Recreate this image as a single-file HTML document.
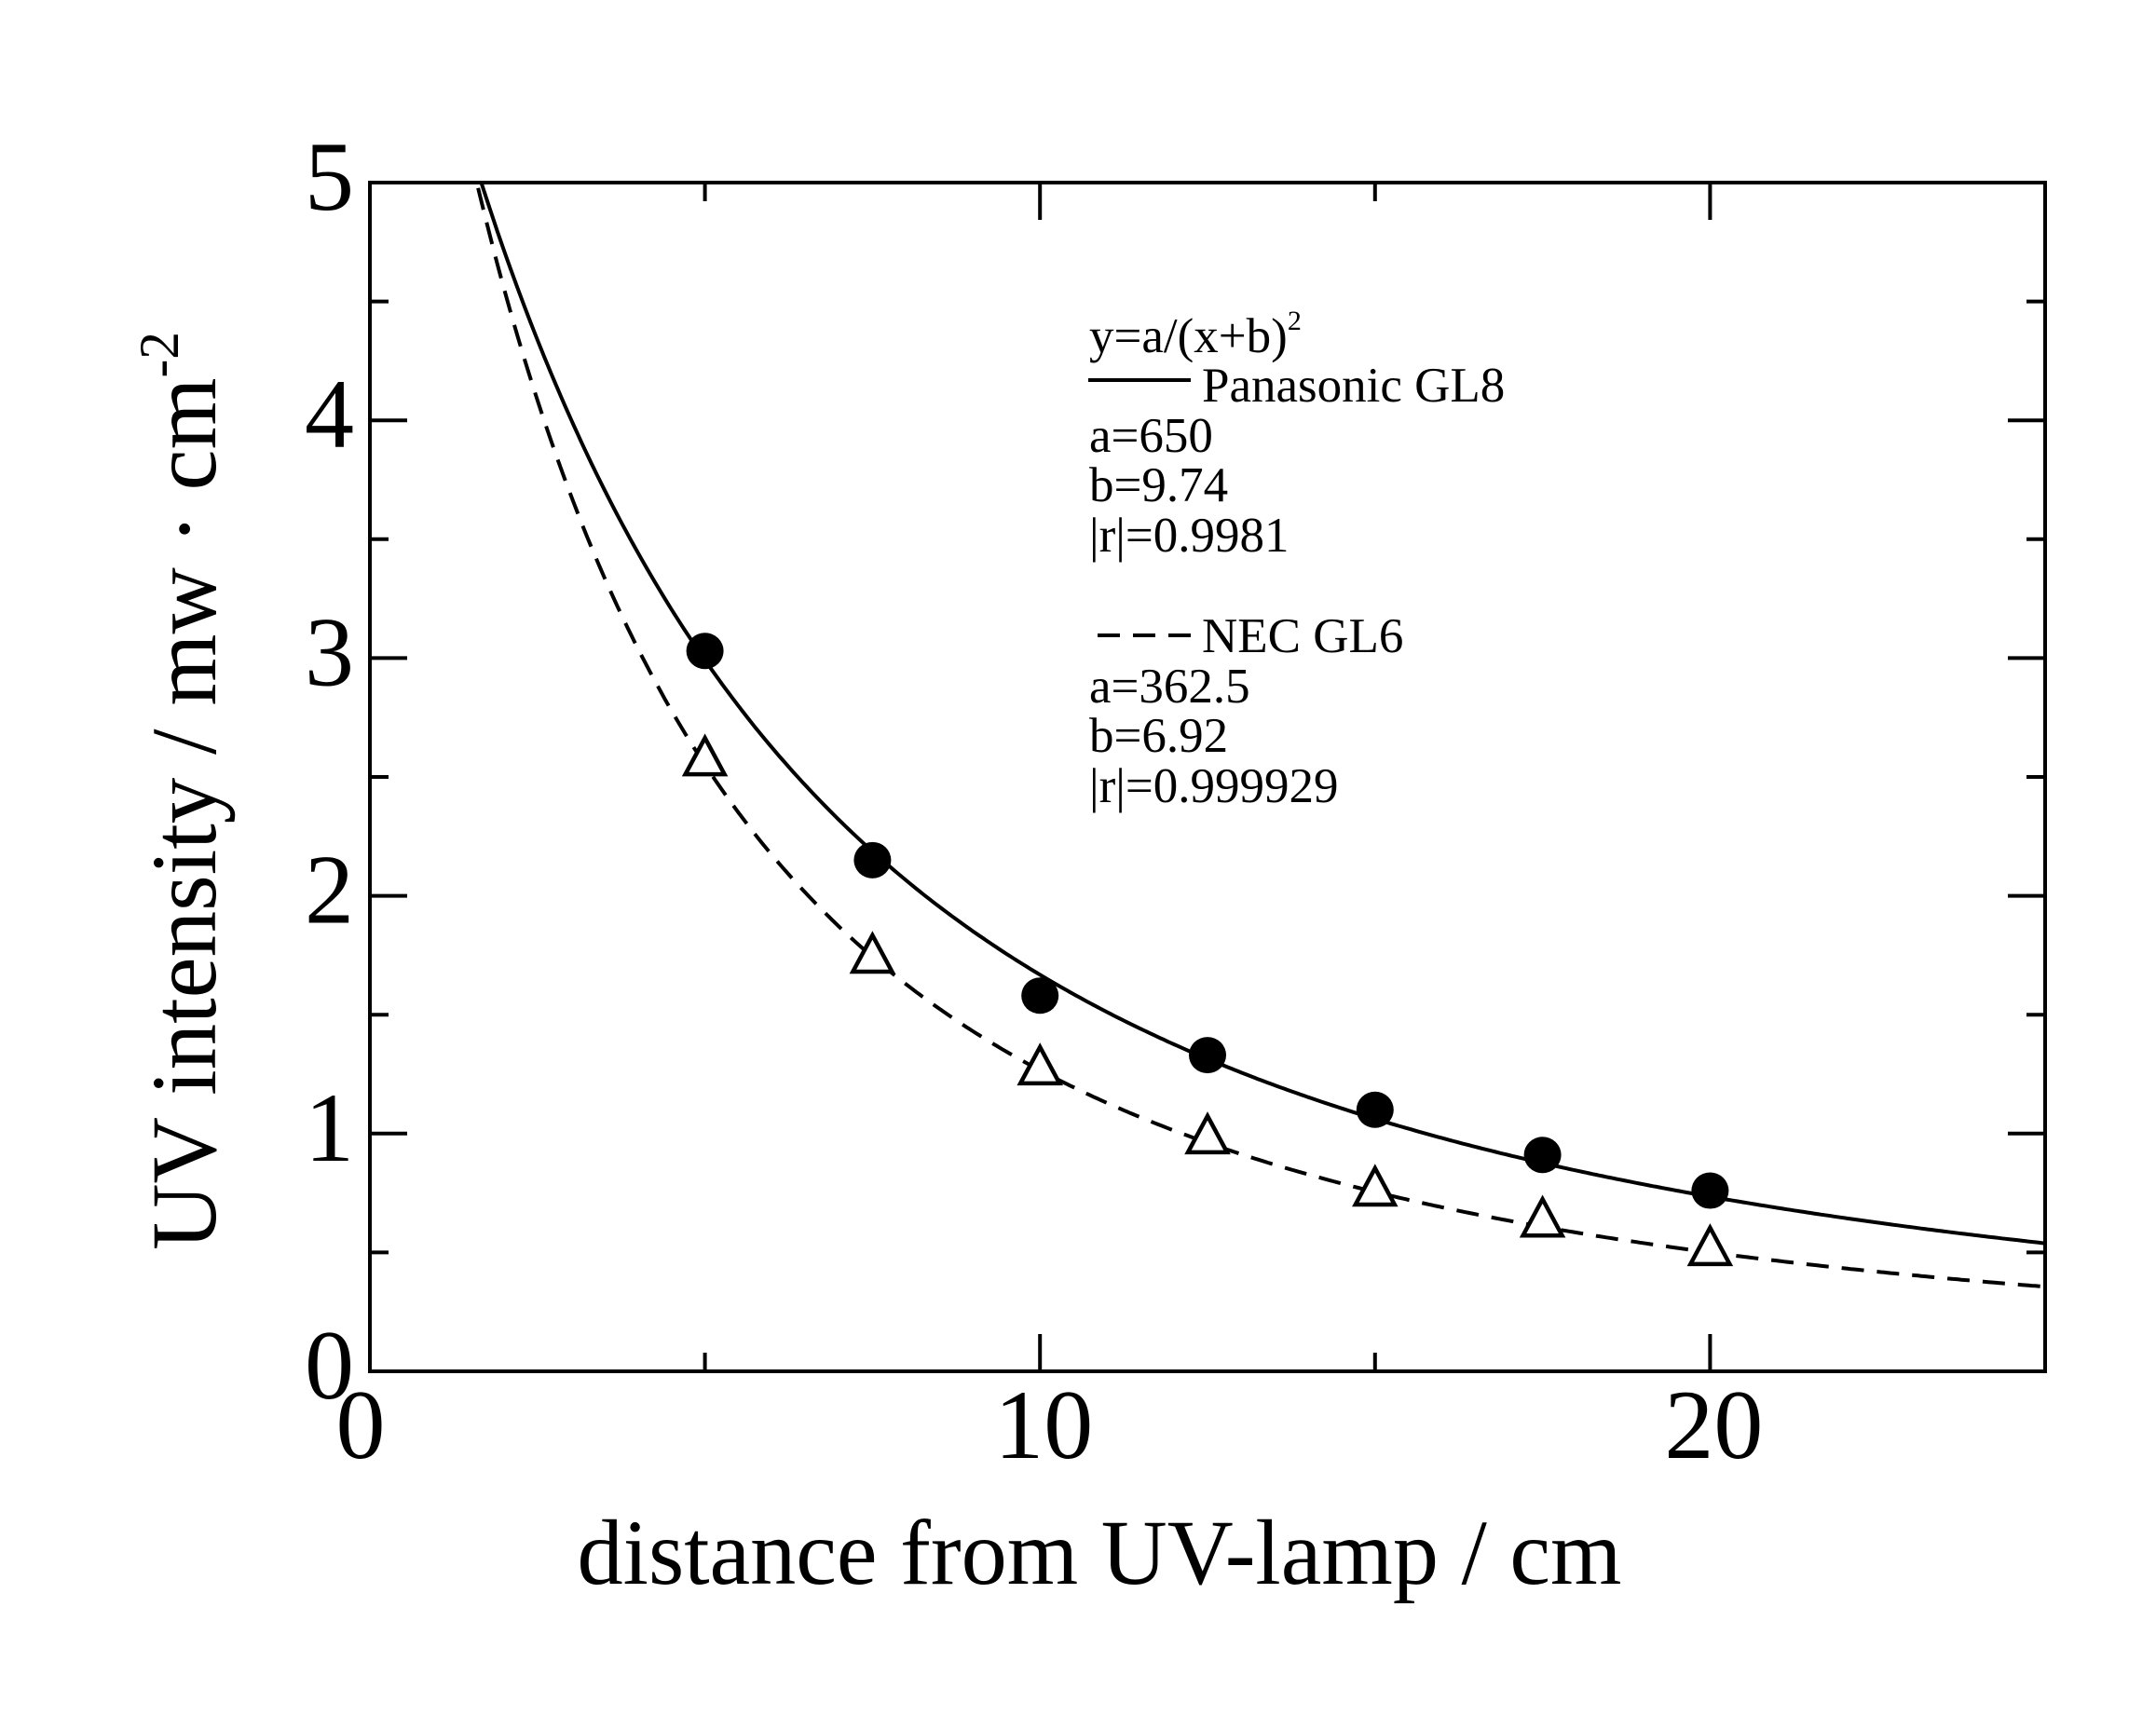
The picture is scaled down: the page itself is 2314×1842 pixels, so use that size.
<!DOCTYPE html>
<html><head><meta charset="utf-8"><style>
html,body{margin:0;padding:0;background:#fff;}
svg{display:block;font-family:"Liberation Serif",serif;}
</style></head><body>
<svg id="chart" width="2314" height="1842" viewBox="0 0 2314 1842" xmlns="http://www.w3.org/2000/svg">
<rect width="2314" height="1842" fill="#fff"/>
<g id="axes"></g>
<g id="curves" clip-path="url(#clip)"></g>
<g id="marks"></g>
<defs><clipPath id="clip"><rect x="397" y="196" width="1798" height="1276"/></clipPath></defs>
<text x="1180" y="1700" font-size="100" text-anchor="middle" textLength="1121" lengthAdjust="spacingAndGlyphs">distance from UV-lamp / cm</text>
<text transform="translate(231,849) rotate(-90)" font-size="100" text-anchor="middle" textLength="986" lengthAdjust="spacingAndGlyphs">UV intensity / mw · cm<tspan font-size="60" dy="-40">-2</tspan></text>
<g font-size="53">
<text x="1169" y="378">y=a/(x+b)<tspan font-size="30" dy="-24">2</tspan></text>
<line x1="1168" y1="408" x2="1278" y2="408" stroke="#000" stroke-width="4"/>
<text x="1290" y="431">Panasonic GL8</text>
<text x="1169" y="485">a=650</text>
<text x="1169" y="538">b=9.74</text>
<text x="1169" y="592">|r|=0.9981</text>
<line x1="1178" y1="682" x2="1278" y2="682" stroke="#000" stroke-width="4" stroke-dasharray="24,14"/>
<text x="1290" y="700">NEC GL6</text>
<text x="1169" y="754">a=362.5</text>
<text x="1169" y="807">b=6.92</text>
<text x="1169" y="861">|r|=0.999929</text>
</g>
</svg>
<script>
const xTicks = [0, 10, 20];
const xMinorTicks = [5, 15];
const yTicks = [0, 1, 2, 3, 4, 5];
const yMinorTicks = [0.5, 1.5, 2.5, 3.5, 4.5];
const distances = [5, 7.5, 10, 12.5, 15, 17.5, 20];
const panasonicValues = [3.03, 2.15, 1.58, 1.33, 1.10, 0.91, 0.76];
const necValues = [2.57, 1.74, 1.27, 0.98, 0.76, 0.63, 0.51];
const panasonicFit = [650, 9.74];
const necFit = [362.5, 6.92];

const NS = 'http://www.w3.org/2000/svg';
const L = 397, R = 2195, T = 196, B = 1472;
const XMAX = 25, YMAX = 5;
const sx = v => L + v / XMAX * (R - L);
const sy = v => B - v / YMAX * (B - T);
function mk(tag, attrs, parent) {
  const e = document.createElementNS(NS, tag);
  for (const k in attrs) e.setAttribute(k, attrs[k]);
  parent.appendChild(e);
  return e;
}
const axes = document.getElementById('axes');
const frame = mk('rect', {x: L, y: T, width: R - L, height: B - T, fill: 'none', stroke: '#000', 'stroke-width': 4}, axes);


function tick(x1, y1, x2, y2) {
  const t = mk('line', {x1, y1, x2, y2, stroke: '#000', 'stroke-width': 4}, axes);
  
  
}
xTicks.concat(xMinorTicks).forEach(v => {
  const len = xTicks.includes(v) ? 40 : 20;
  tick(sx(v), B, sx(v), B - len);
  tick(sx(v), T, sx(v), T + len);
});
yTicks.concat(yMinorTicks).forEach(v => {
  const len = yTicks.includes(v) ? 40 : 20;
  tick(L, sy(v), L + len, sy(v));
  tick(R, sy(v), R - len, sy(v));
});
xTicks.forEach(v => {
  const t = mk('text', {x: sx(v) + (v === 0 ? -10 : 4), y: 1565, 'font-size': 106, 'text-anchor': 'middle'}, axes);
  
  
  t.textContent = v;
});
yTicks.forEach(v => {
  const t = mk('text', {x: 380, y: sy(v) + 29, 'font-size': 106, 'text-anchor': 'end'}, axes);
  
  
  t.textContent = v;
});
const curves = document.getElementById('curves');
function fitPath(p, dash, name) {
  let d = '';
  for (let x = 0.5; x <= XMAX + 0.01; x += 0.05) {
    const y = p[0] / Math.pow(x + p[1], 2);
    d += (d ? 'L' : 'M') + sx(x).toFixed(1) + ',' + sy(y).toFixed(1);
  }
  const path = mk('path', {d, fill: 'none', stroke: '#000', 'stroke-width': 4}, curves);
  if (dash) path.setAttribute('stroke-dasharray', '24,14');
  
  
}
fitPath(panasonicFit, false, 'panasonic-fit-line');
fitPath(necFit, true, 'nec-fit-line');
const marks = document.getElementById('marks');
distances.forEach((x, i) => {
  const cx = sx(x), cy = sy(panasonicValues[i]);
  const c = mk('ellipse', {cx, cy, rx: 20, ry: 19.5, fill: '#000'}, marks);
  
  
  const ty = sy(necValues[i]);
  const tr = mk('polygon', {points: `${cx},${ty - 24} ${cx - 21},${ty + 15} ${cx + 21},${ty + 15}`, fill: '#fff', stroke: '#000', 'stroke-width': 4.5}, marks);
  
  
});
</script>
</body></html>
